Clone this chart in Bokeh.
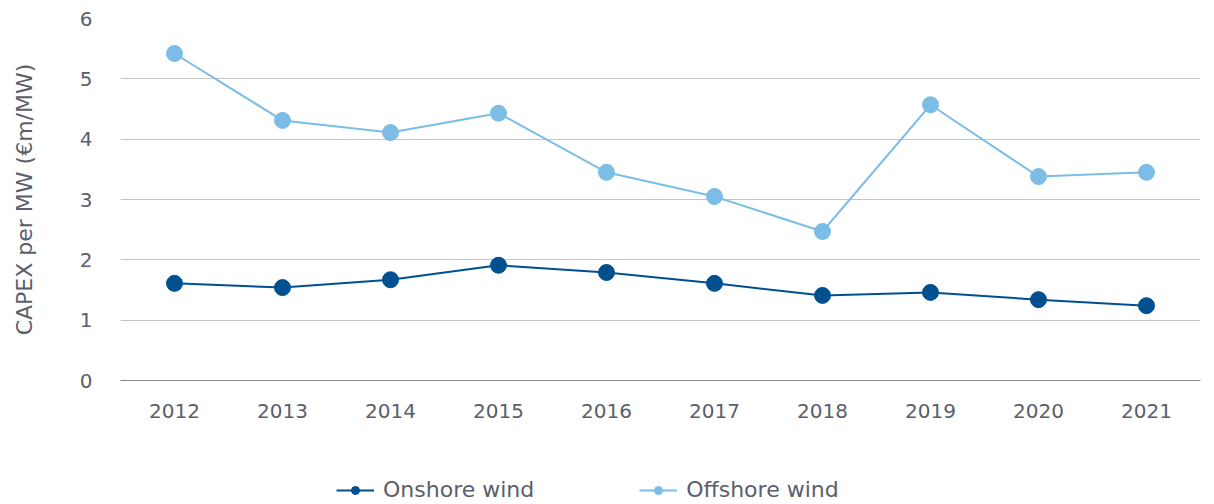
from bokeh.plotting import figure
from bokeh.layouts import column
from bokeh.models import Legend, LegendItem, Range1d, FixedTicker
from bokeh.embed import file_html
from bokeh.resources import INLINE

years = ["2012", "2013", "2014", "2015", "2016", "2017", "2018", "2019", "2020", "2021"]
onshore = [1.61, 1.54, 1.67, 1.91, 1.79, 1.61, 1.41, 1.46, 1.34, 1.24]
offshore = [5.42, 4.31, 4.11, 4.43, 3.45, 3.05, 2.47, 4.57, 3.38, 3.45]
y_ticks = [0, 1, 2, 3, 4, 5, 6]

FONT = "DejaVu Sans"
TXT = "#59606b"
ON_C = "#00508f"
OFF_C = "#7bbde6"

p = figure(x_range=years, y_range=Range1d(0, 6), width=1214, height=430,
           output_backend="svg", toolbar_location=None,
           min_border_left=120, min_border_right=14, min_border_top=18, min_border_bottom=50)
p.outline_line_color = None
p.xgrid.grid_line_color = None
p.ygrid.grid_line_color = "#c4c4c4"
p.ygrid.grid_line_width = 1

p.yaxis.ticker = FixedTicker(ticks=y_ticks)
p.yaxis.axis_line_color = None
p.yaxis.major_tick_line_color = None
p.yaxis.minor_tick_line_color = None
p.yaxis.major_label_text_font = FONT
p.yaxis.major_label_text_font_size = "20px"
p.yaxis.major_label_text_color = TXT
p.yaxis.major_label_standoff = 22
p.yaxis.axis_label = "CAPEX per MW (€m/MW)"
p.yaxis.axis_label_text_font = FONT
p.yaxis.axis_label_text_font_size = "22px"
p.yaxis.axis_label_text_font_style = "normal"
p.yaxis.axis_label_text_color = TXT
p.yaxis.axis_label_standoff = 40

p.xaxis.axis_line_color = "#8a8a8a"
p.xaxis.major_tick_line_color = None
p.xaxis.minor_tick_line_color = None
p.xaxis.major_label_text_font = FONT
p.xaxis.major_label_text_font_size = "20px"
p.xaxis.major_label_text_color = TXT
p.xaxis.major_label_standoff = 17

p.line(years, onshore, line_color=ON_C, line_width=2)
p.scatter(years, onshore, size=16, fill_color=ON_C, line_color=ON_C)
p.line(years, offshore, line_color=OFF_C, line_width=2)
p.scatter(years, offshore, size=16, fill_color=OFF_C, line_color=OFF_C)

# legend strip: same series drawn outside its visible range, only the legend shows
q = figure(x_range=years, y_range=Range1d(100, 101), width=1214, height=74,
           output_backend="svg", toolbar_location=None,
           x_axis_type=None, y_axis_type=None,
           min_border_left=0, min_border_right=0, min_border_top=0, min_border_bottom=0)
q.outline_line_color = None
ql1 = q.line(years, onshore, line_color=ON_C, line_width=2)
qc1 = q.scatter(years, onshore, size=10, fill_color=ON_C, line_color=ON_C)
ql2 = q.line(years, offshore, line_color=OFF_C, line_width=2)
qc2 = q.scatter(years, offshore, size=10, fill_color=OFF_C, line_color=OFF_C)

legend = Legend(items=[LegendItem(label="Onshore wind", renderers=[ql1, qc1]),
                       LegendItem(label="Offshore wind", renderers=[ql2, qc2])],
                orientation="horizontal", location=(216, 2),
                label_text_font=FONT, label_text_font_size="22px", label_text_color=TXT,
                glyph_width=38, glyph_height=20, label_standoff=9, spacing=105,
                border_line_color=None, background_fill_alpha=0, margin=0, padding=0)
q.add_layout(legend, "center")

layout = column(p, q, spacing=0)
open("out.html", "w").write(file_html(layout, INLINE))
